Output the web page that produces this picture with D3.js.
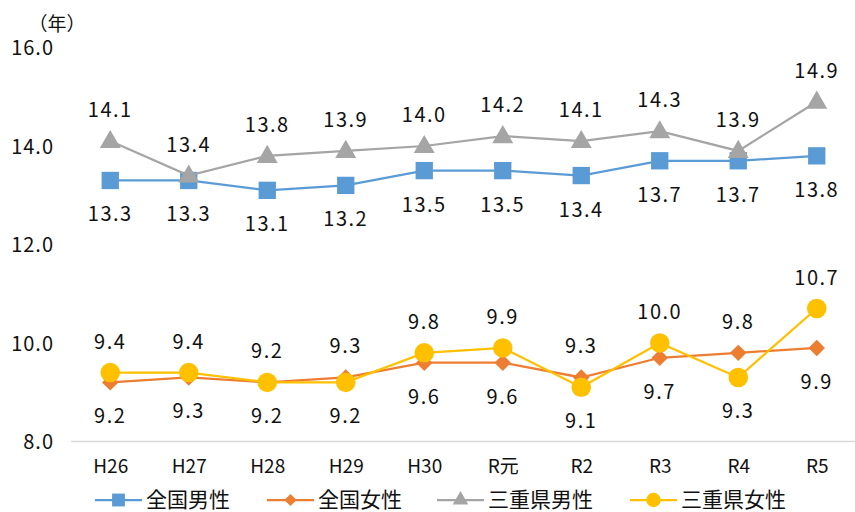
<!DOCTYPE html>
<html lang="ja">
<head>
<meta charset="utf-8">
<title>平均余命</title>
<script src="https://cdnjs.cloudflare.com/ajax/libs/d3/7.8.5/d3.min.js"></script>
<style>
  body { margin: 0; background: #fff; }
  svg text { font-family: "Noto Sans CJK JP", sans-serif; fill: #111; }
</style>
</head>
<body>
<div id="chart"></div>
<script>
// categories and values
const years = ['H26', 'H27', 'H28', 'H29', 'H30', 'R元', 'R2', 'R3', 'R4', 'R5'];
const zenkokuMale   = [13.3, 13.3, 13.1, 13.2, 13.5, 13.5, 13.4, 13.7, 13.7, 13.8];
const zenkokuFemale = [9.2, 9.3, 9.2, 9.3, 9.6, 9.6, 9.3, 9.7, 9.8, 9.9];
const mieMale       = [14.1, 13.4, 13.8, 13.9, 14.0, 14.2, 14.1, 14.3, 13.9, 14.9];
const mieFemale     = [9.4, 9.4, 9.2, 9.2, 9.8, 9.9, 9.1, 10.0, 9.3, 10.7];
const yTicks = [8, 10, 12, 14, 16];

const w = 855, h = 512;

// diamond = square turned 45deg
const series = [
  {name: '全国男性', values: zenkokuMale, color: '#5B9BD5', shape: d3.symbolSquare, size: 300, rot: 0, pair: mieMale},
  {name: '全国女性', values: zenkokuFemale, color: '#ED7D31', shape: d3.symbolSquare, size: 135, rot: 45, pair: mieFemale},
  {name: '三重県男性', values: mieMale, color: '#A5A5A5', shape: d3.symbolTriangle, size: 190, rot: 0, pair: zenkokuMale},
  {name: '三重県女性', values: mieFemale, color: '#FFC000', shape: d3.symbolCircle, size: 300, rot: 0, pair: zenkokuFemale}
];

const xScale = d3.scalePoint()
  .domain(years)
  .range([71, 856])
  .padding(0.5);

const yScale = d3.scaleLinear()
  .domain([8, 16])
  .range([441.5, 47.5]);

const svg = d3.select('#chart')
  .append('svg')
  .attr('width', w)
  .attr('height', h);

// baseline
svg.append('line')
  .attr('x1', 71).attr('x2', 855)
  .attr('y1', yScale(8)).attr('y2', yScale(8))
  .attr('stroke', '#d9d9d9')
  .attr('stroke-width', 1.5);

// y axis labels
const yAxis = d3.axisLeft(yScale)
  .tickValues(yTicks)
  .tickFormat(d3.format('.1f'))
  .tickSize(0)
  .tickPadding(0);
const yg = svg.append('g')
  .attr('transform', 'translate(54,0)')
  .call(yAxis);
yg.select('.domain').remove();
yg.selectAll('text')
  .style('font-size', '20px')
  .style('letter-spacing', '1px')
  .attr('dy', '0.35em');

svg.append('text')
  .attr('x', 57)
  .attr('y', 24)
  .attr('dy', '0.35em')
  .style('text-anchor', 'middle')
  .style('font-size', '19px')
  .text('（年）');

// x axis labels
const xAxis = d3.axisBottom(xScale).tickSize(0).tickPadding(0);
const xg = svg.append('g')
  .attr('transform', 'translate(0,466)')
  .call(xAxis);
xg.select('.domain').remove();
xg.selectAll('text')
  .attr('dy', '0.35em')
  .attr('y', 0)
  .style('font-size', '19px');

// lines and markers
const line = d3.line()
  .x((d, i) => xScale(years[i]))
  .y(d => yScale(d));

series.forEach(s => {
  const g = svg.append('g');
  g.append('path')
    .datum(s.values)
    .attr('d', line)
    .attr('fill', 'none')
    .attr('stroke', s.color)
    .attr('stroke-width', 2.25);
  g.selectAll('.pt')
    .data(s.values)
    .enter()
    .append('path')
    .attr('class', 'pt')
    .attr('d', d3.symbol().type(s.shape).size(s.size))
    .attr('transform', (d, i) => 'translate(' + xScale(years[i]) + ',' + (yScale(d) + (s.shape === d3.symbolTriangle ? 1 : 0)) + ') rotate(' + s.rot + ')')
    .attr('fill', s.color);
});

// data labels: the higher value of each pair sits above, the lower below
series.forEach(s => {
  svg.append('g')
    .selectAll('text')
    .data(s.values)
    .enter()
    .append('text')
    .attr('x', (d, i) => xScale(years[i]))
    .attr('y', (d, i) => {
      const above = d > s.pair[i] || (d === s.pair[i] && s.name.startsWith('三重'));
      return yScale(d) + (above ? -31 : 34);
    })
    .attr('dy', '0.35em')
    .style('text-anchor', 'middle')
    .style('font-size', '20px')
    .style('letter-spacing', '1.5px')
    .text(d => d3.format('.1f')(d));
});

// legend
const legendX = [95, 267, 437, 630];
const legend = svg.append('g')
  .selectAll('g')
  .data(series)
  .enter()
  .append('g')
  .attr('transform', (d, i) => 'translate(' + legendX[i] + ',500)');
legend.append('line')
  .attr('x1', 0).attr('x2', 47)
  .attr('stroke', d => d.color)
  .attr('stroke-width', 2.25);
legend.append('path')
  .attr('d', d => d3.symbol().type(d.shape).size(d.size * 0.55)())
  .attr('transform', d => 'translate(23.5,0) rotate(' + d.rot + ')')
  .attr('fill', d => d.color);
legend.append('text')
  .attr('x', 51)
  .attr('dy', '0.35em')
  .style('font-size', '21px')
  .text(d => d.name);
</script>
</body>
</html>
